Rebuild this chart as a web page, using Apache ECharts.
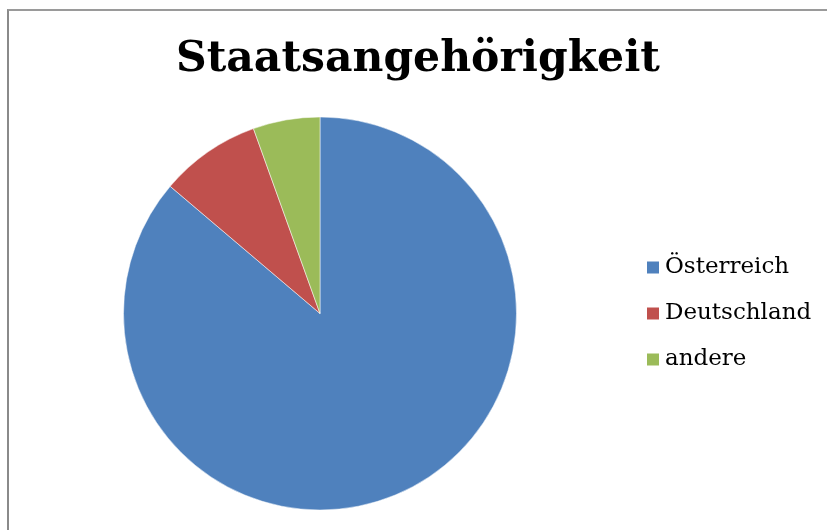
<!DOCTYPE html>
<html>
<head>
<meta charset="utf-8">
<script src="https://cdn.jsdelivr.net/npm/echarts@6/dist/echarts.min.js"></script>
<style>
html,body{margin:0;padding:0;background:#fff;}
#wrap{position:relative;width:827px;height:530px;overflow:hidden;}
#chart{position:absolute;left:0;top:0;width:827px;height:530px;}
#frame{position:absolute;left:7px;top:9px;width:900px;height:600px;border-left:2px solid #8a8a8a;border-top:2px solid #9a9a9a;pointer-events:none;}
</style>
</head>
<body>
<div id="wrap"><div id="chart"></div><div id="frame"></div></div>
<script>
const titleText = 'Staatsangehörigkeit';
const categories = ['Österreich', 'Deutschland', 'andere'];
const values = [86.2, 8.3, 5.5];
const colors = ['#4F81BD', '#C0504D', '#9BBB59'];

const chart = echarts.init(document.getElementById('chart'), null, {renderer: 'canvas'});
chart.setOption({
  animation: false,
  color: colors,
  title: {
    text: titleText,
    left: 176,
    top: 38,
    padding: 0,
    textStyle: {fontFamily: 'DejaVu Serif', fontWeight: 'bold', fontSize: 42.5, color: '#000'}
  },
  legend: {
    orient: 'vertical',
    left: 645,
    top: 256,
    padding: 0,
    itemWidth: 14,
    itemHeight: 14,
    itemGap: 23,
    icon: 'rect',
    data: categories,
    textStyle: {fontFamily: 'DejaVu Serif', fontSize: 23, color: '#000'}
  },
  series: [{
    type: 'pie',
    center: [320, 313.5],
    radius: 196.5,
    startAngle: 90,
    clockwise: true,
    label: {show: false},
    labelLine: {show: false},
    itemStyle: {borderColor: '#fff', borderWidth: 0.5},
    emphasis: {disabled: true},
    data: categories.map((c, i) => ({name: c, value: values[i]}))
  }]
});
</script>
</body>
</html>
